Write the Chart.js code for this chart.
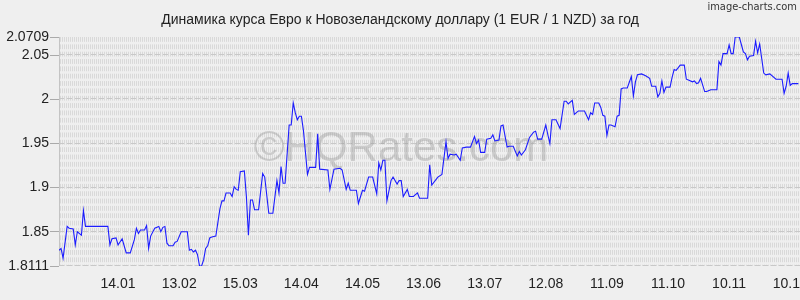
<!DOCTYPE html>
<html>
<head>
<meta charset="utf-8">
<script src="https://cdn.jsdelivr.net/npm/chart.js@4/dist/chart.umd.min.js"></script>
<style>
  html, body { margin: 0; padding: 0; background: #efefef; }
  #c { display: block; }
</style>
</head>
<body>
<canvas id="c" width="800" height="300"></canvas>
<script>
// ---- data (day offsets from 16.12, EUR/NZD rate) ----
const days = [0,1,2,4,5,7,8,9,11,12,13,24,25,26,28,29,31,33,35,37,38,39,40,42,43,44,45,47,49,50,51,52,53,54,56,57,58,60,63,64,65,66,67,68,69,70,71,72,73,74,75,77,79,80,81,82,84,85,86,87,88,89,91,92,93,94,95,96,98,100,101,103,105,107,108,109,110,111,113,114,115,116,117,118,119,120,122,123,126,127,128,132,133,135,138,139,141,142,143,146,147,149,150,152,154,156,157,158,159,160,161,163,164,166,167,168,169,171,172,174,176,177,181,182,183,186,188,190,191,192,194,195,197,198,200,202,204,205,206,207,209,210,212,213,214,216,217,218,220,221,223,225,226,227,229,231,233,234,235,237,239,240,241,242,244,246,248,249,250,252,253,255,258,260,261,262,263,265,266,267,268,269,270,271,273,274,275,276,277,279,281,282,283,284,286,288,290,291,293,294,295,296,297,298,300,301,302,303,305,307,308,309,311,312,313,314,315,317,318,320,323,324,325,326,328,329,330,331,332,334,336,337,338,339,341,342,343,344,346,347,349,352,355,356,357,358,359,360,363];
const rates = [1.829,1.831,1.820,1.856,1.854,1.853,1.835,1.850,1.846,1.874,1.856,1.856,1.835,1.842,1.843,1.835,1.842,1.826,1.826,1.841,1.854,1.848,1.852,1.852,1.857,1.831,1.845,1.854,1.856,1.850,1.855,1.856,1.837,1.834,1.834,1.838,1.839,1.850,1.850,1.829,1.830,1.827,1.829,1.824,1.8111,1.8111,1.818,1.831,1.834,1.843,1.844,1.845,1.876,1.885,1.885,1.894,1.894,1.890,1.901,1.898,1.897,1.918,1.919,1.890,1.846,1.886,1.886,1.875,1.875,1.916,1.912,1.871,1.871,1.908,1.894,1.924,1.905,1.905,1.971,1.971,1.996,1.985,1.977,1.981,1.981,1.965,1.915,1.923,1.923,1.961,1.921,1.920,1.898,1.921,1.922,1.920,1.898,1.905,1.897,1.897,1.882,1.897,1.896,1.912,1.912,1.893,1.928,1.920,1.931,1.931,1.885,1.908,1.912,1.904,1.908,1.908,1.890,1.898,1.890,1.890,1.894,1.888,1.888,1.926,1.903,1.912,1.915,1.952,1.933,1.938,1.937,1.938,1.931,1.945,1.946,1.946,1.958,1.950,1.954,1.940,1.940,1.955,1.956,1.960,1.953,1.954,1.970,1.971,1.946,1.947,1.947,1.936,1.941,1.937,1.943,1.957,1.963,1.964,1.955,1.955,1.971,1.960,1.950,1.977,1.977,1.967,1.998,1.998,1.995,1.999,1.983,1.987,1.987,1.977,1.985,1.983,1.996,1.996,1.991,1.982,1.981,1.959,1.971,1.971,1.969,1.981,1.982,2.012,2.013,2.013,2.026,2.004,2.020,2.028,2.029,2.027,2.024,2.015,2.015,2.003,2.007,2.021,2.008,2.014,2.014,2.025,2.034,2.033,2.039,2.039,2.023,2.022,2.020,2.021,2.018,2.019,2.024,2.009,2.009,2.011,2.011,2.043,2.039,2.052,2.052,2.062,2.052,2.052,2.0709,2.0709,2.054,2.052,2.045,2.049,2.050,2.066,2.053,2.063,2.030,2.028,2.029,2.023,2.023,2.007,2.015,2.030,2.016,2.018,2.018];

const xTickDays = [29,59,89,119,149,179,209,239,269,299,329,359];
const xTickLabels = ['14.01','13.02','15.03','14.04','14.05','13.06','13.07','12.08','11.09','11.10','10.11','10.12'];
const yTickValues = [1.8111,1.85,1.9,1.95,2,2.05,2.0709];

const titleText = 'Динамика курса Евро к Новозеландскому доллару (1 EUR / 1 NZD) за год';
const watermarkText = '©HQRates.com';
const brandText = 'image-charts.com';

const FONT = "'Liberation Sans', Arial, sans-serif";

const bgPlugin = {
  id: 'bgPlugin',
  beforeDraw(chart) {
    const ctx = chart.ctx;
    ctx.save();
    ctx.fillStyle = '#efefef';
    ctx.fillRect(0, 0, chart.width, chart.height);
    // brand text
    ctx.fillStyle = '#333';
    ctx.font = "11px 'DejaVu Sans Condensed', 'Liberation Sans Narrow', " + FONT;
    ctx.textAlign = 'right';
    ctx.textBaseline = 'alphabetic';
    ctx.fillText(brandText, 797, 10);
    ctx.restore();
  },
  beforeDatasetsDraw(chart) {
    const ctx = chart.ctx;
    const a = chart.chartArea;
    const ys = chart.scales.y;
    ctx.save();
    ctx.beginPath();
    ctx.rect(a.left, a.top, a.right - a.left, a.bottom - a.top + 1);
    ctx.clip();
    // stripe pattern
    ctx.strokeStyle = '#d9d9d9';
    ctx.lineWidth = 1;
    const period = ys.getPixelForValue(2) - ys.getPixelForValue(2.05);
    const seg = period / 6;
    ctx.setLineDash([seg * 0.66, seg * 0.34]);
    ctx.lineDashOffset = 0;
    ctx.beginPath();
    for (let x = a.left + 1; x < a.right; x += 2) {
      ctx.moveTo(x + 0.5, a.top);
      ctx.lineTo(x + 0.5, a.bottom);
    }
    ctx.stroke();
    // major dashed lines
    ctx.strokeStyle = '#c8c8c8';
    ctx.setLineDash([5, 3]);
    ctx.beginPath();
    yTickValues.forEach(v => {
      const y = Math.round(ys.getPixelForValue(v)) - 0.5;
      ctx.moveTo(a.left, y);
      ctx.lineTo(a.right, y);
    });
    ctx.stroke();
    ctx.setLineDash([]);
    // left axis line
    ctx.strokeStyle = '#c4c4c4';
    ctx.beginPath();
    ctx.moveTo(a.left + 0.5, a.top);
    ctx.lineTo(a.left + 0.5, a.bottom);
    ctx.stroke();
    // watermark
    ctx.fillStyle = 'rgba(140,140,140,0.36)';
    ctx.font = '42px ' + FONT;
    ctx.textAlign = 'center';
    ctx.textBaseline = 'middle';
    ctx.fillText(watermarkText, 401, 149);
    ctx.restore();
  }
};

new Chart(document.getElementById('c'), {
  type: 'line',
  data: {
    datasets: [{
      data: days.map((d, i) => ({ x: d, y: rates[i] })),
      borderColor: '#1c1cff',
      borderWidth: 1.1,
      pointRadius: 0,
      tension: 0,
      fill: false
    }]
  },
  options: {
    responsive: false,
    animation: false,
    devicePixelRatio: 1,
    layout: { padding: 0 },
    plugins: {
      legend: { display: false },
      tooltip: { enabled: false },
      title: {
        display: true,
        text: titleText,
        color: '#222',
        font: { family: FONT, size: 14, weight: 'normal', lineHeight: 1.2 },
        padding: { top: 11.6, bottom: 8.6 }
      }
    },
    scales: {
      x: {
        type: 'linear',
        min: 0,
        max: 363.8,
        afterBuildTicks(scale) { scale.ticks = xTickDays.map(v => ({ value: v })); },
        afterFit(scale) { scale.height = 34; scale.paddingLeft = 0; scale.paddingRight = 0; },
        ticks: {
          autoSkip: false,
          maxRotation: 0,
          padding: 10,
          color: '#222',
          font: { family: FONT, size: 14 },
          callback(v) { const i = xTickDays.indexOf(v); return i >= 0 ? xTickLabels[i] : ''; }
        },
        grid: { display: false, drawTicks: false },
        border: { display: false }
      },
      y: {
        type: 'linear',
        min: 1.8111,
        max: 2.0709,
        afterBuildTicks(scale) { scale.ticks = yTickValues.map(v => ({ value: v })); },
        afterFit(scale) { scale.width = 59; scale.paddingTop = 0; scale.paddingBottom = 0; },
        ticks: {
          autoSkip: false,
          padding: 1,
          color: '#222',
          font: { family: FONT, size: 14 },
          callback(v) { return String(v); }
        },
        grid: { drawOnChartArea: false, drawTicks: true, tickLength: 9, tickColor: '#aaa' },
        border: { display: false }
      }
    }
  },
  plugins: [bgPlugin]
});
</script>
</body>
</html>
